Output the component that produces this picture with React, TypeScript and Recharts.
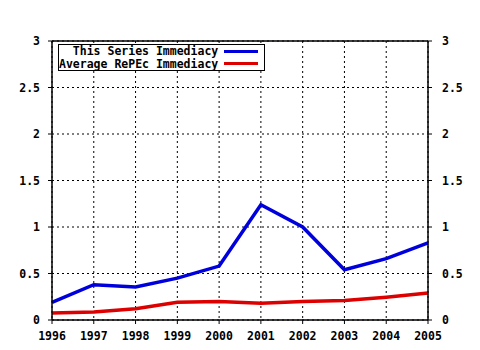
import { LineChart, Line, XAxis, YAxis, CartesianGrid, ReferenceLine } from "recharts"

const years = [1996, 1997, 1998, 1999, 2000, 2001, 2002, 2003, 2004, 2005]
const seriesImmediacy = [0.19, 0.38, 0.355, 0.45, 0.58, 1.24, 1.0, 0.54, 0.66, 0.83]
const repecImmediacy = [0.075, 0.085, 0.12, 0.19, 0.2, 0.18, 0.2, 0.21, 0.245, 0.29]
const yTicks = [0, 0.5, 1, 1.5, 2, 2.5, 3]
const yTickLabels = ["0", "0.5", "1", "1.5", "2", "2.5", "3"]
const minorTicks = years.slice(0, -1).flatMap((y) => [y + 0.25, y + 0.5, y + 0.75])
const legendItems = [
  { name: "This Series Immediacy", color: "#0000dd" },
  { name: "Average RePEc Immediacy", color: "#dd0000" },
]

const data = years.map((year, i) => ({
  year,
  series: seriesImmediacy[i],
  repec: repecImmediacy[i],
}))

const font = "'DejaVu Sans Mono', monospace"
const tickStyle = { fontSize: 11.5, fontFamily: font, fontWeight: 700, fill: "#000" }

function LegendBox() {
  return (
    <div
      style={{
        position: "absolute",
        left: 58,
        top: 44,
        border: "1px solid #000",
        background: "#fff",
        padding: "0 6px 0 0",
        fontFamily: font,
        fontWeight: 700,
        fontSize: 11.5,
        lineHeight: "12.5px",
        color: "#000",
      }}
    >
      {legendItems.map((p) => (
        <div key={p.name} style={{ display: "flex", justifyContent: "flex-end", alignItems: "center" }}>
          <span style={{ whiteSpace: "pre" }}>{p.name}</span>
          <span style={{ display: "inline-block", width: 34, height: 3, background: p.color, marginLeft: 6 }} />
        </div>
      ))}
    </div>
  )
}

export default function App() {
  return (
    <div style={{ position: "absolute", left: 0, top: 0, width: 480, height: 350, background: "#fff" }}>
      <LineChart width={480} height={350} data={data} margin={{ top: 41, right: 0, bottom: 0, left: 0 }}>
        <CartesianGrid yAxisId="left" stroke="#000" strokeDasharray="2 3" strokeWidth={1} />
        <XAxis
          dataKey="year"
          type="number"
          domain={[1996, 2005]}
          ticks={years}
          height={30}
          tick={tickStyle}
          tickSize={4}
          tickMargin={8}
          axisLine={{ stroke: "#000", strokeWidth: 1.5 }}
          tickLine={{ stroke: "#000" }}
          interval={0}
        />
        <XAxis
          xAxisId="top"
          dataKey="year"
          type="number"
          orientation="top"
          domain={[1996, 2005]}
          ticks={years}
          height={0}
          tickSize={4}
          tickFormatter={() => ""}
          axisLine={{ stroke: "#000", strokeWidth: 1.5 }}
          tickLine={{ stroke: "#000" }}
          interval={0}
        />
        <XAxis
          xAxisId="topMinor"
          dataKey="year"
          type="number"
          orientation="top"
          domain={[1996, 2005]}
          ticks={minorTicks}
          height={0}
          mirror
          tickSize={2}
          tickFormatter={() => ""}
          axisLine={false}
          tickLine={{ stroke: "#000" }}
          interval={0}
        />
        <YAxis
          yAxisId="left"
          type="number"
          domain={[0, 3]}
          ticks={yTicks}
          width={52}
          tick={tickStyle}
          tickFormatter={(v) => yTickLabels[yTicks.indexOf(v)]}
          tickSize={4}
          tickMargin={8}
          axisLine={{ stroke: "#000", strokeWidth: 1.5 }}
          tickLine={{ stroke: "#000" }}
          interval={0}
        />
        <YAxis
          yAxisId="right"
          type="number"
          orientation="right"
          domain={[0, 3]}
          ticks={yTicks}
          width={52}
          tick={tickStyle}
          tickFormatter={(v) => yTickLabels[yTicks.indexOf(v)]}
          tickSize={4}
          tickMargin={10}
          axisLine={{ stroke: "#000", strokeWidth: 1.5 }}
          tickLine={{ stroke: "#000" }}
          interval={0}
        />
        <ReferenceLine yAxisId="left" y={3} stroke="#000" strokeWidth={1.5} />
        <Line
          yAxisId="left"
          dataKey="series"
          name="This Series Immediacy"
          stroke="#0000dd"
          strokeWidth={3.5}
          dot={false}
          isAnimationActive={false}
        />
        <Line
          yAxisId="right"
          dataKey="repec"
          name="Average RePEc Immediacy"
          stroke="#dd0000"
          strokeWidth={3.5}
          dot={false}
          isAnimationActive={false}
        />
      </LineChart>
      <LegendBox />
    </div>
  )
}
